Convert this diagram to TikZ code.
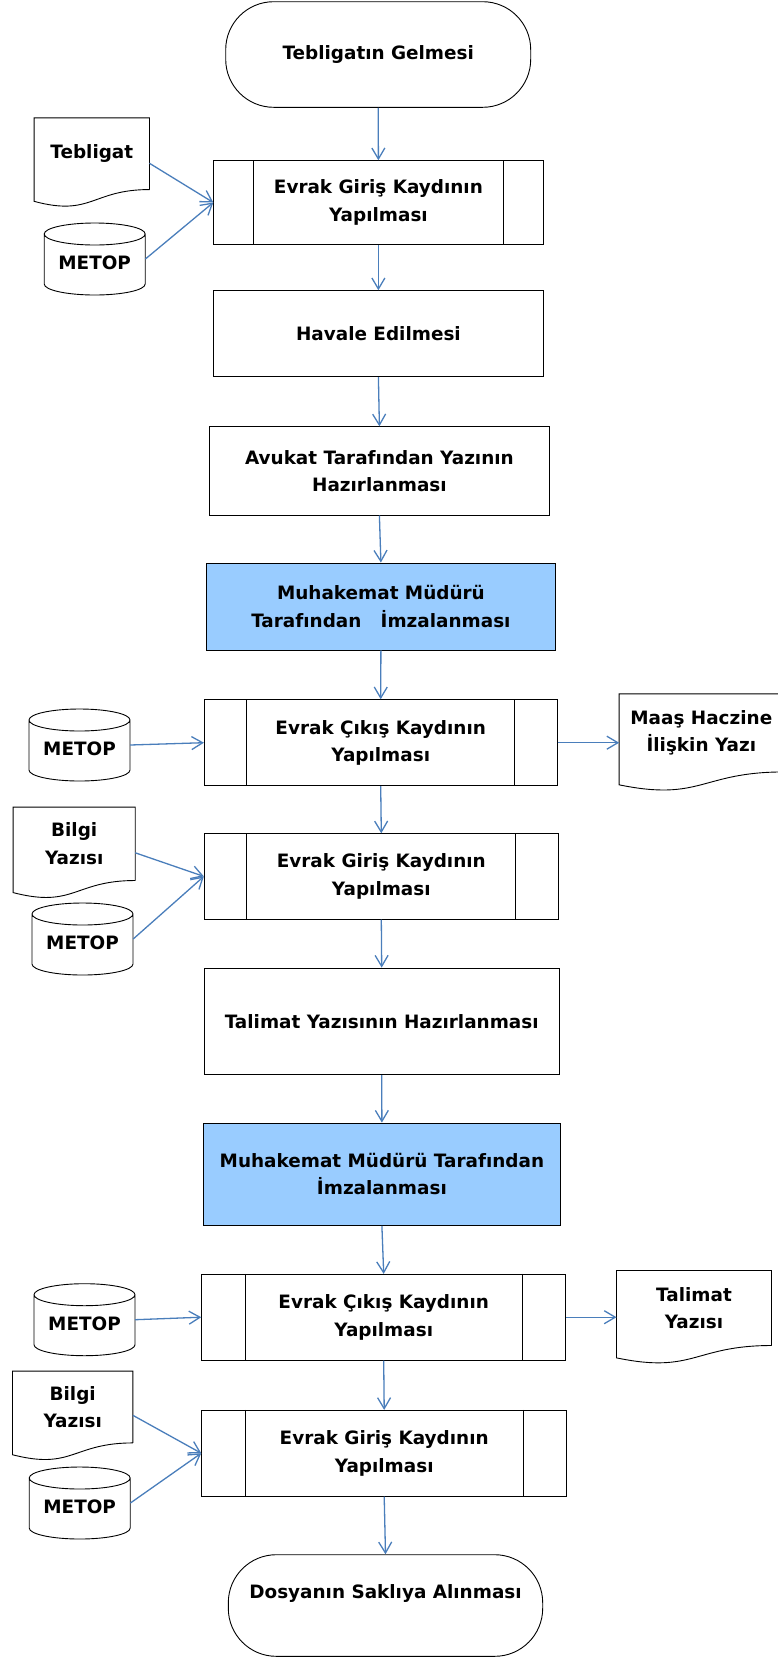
\documentclass[tikz,border=0pt]{standalone}
\usepackage{fontspec}
\setmainfont{DejaVu Sans}
\usetikzlibrary{arrows.meta,calc}

\definecolor{okmavi}{RGB}{74,126,187}
\definecolor{kutumavi}{RGB}{153,204,255}

\tikzset{
  yazi/.style={inner sep=0pt, align=center, font=\bfseries\fontsize{18.4}{27.5}\selectfont},
  islem/.style={yazi, draw=black, line width=0.9pt, rectangle},
  mavi/.style={islem, fill=kutumavi},
  uc/.style={islem, rounded corners=48pt},
  belge/.style={yazi},
  veri/.style={yazi, minimum width=101pt, minimum height=72pt},
  cizgi/.style={draw=black, line width=0.9pt},
  ok/.style={draw=okmavi, line width=1.3pt, -{Straight Barb[length=11pt,width=13pt]}},
}

\begin{document}
\begin{tikzpicture}[x=1pt, y=-1pt]
    \useasboundingbox (0,0) rectangle (778,1657);

    % ana akis
    \node[uc, minimum width=305pt, minimum height=105.6pt] (gelme) at (378.2,54.5) {Tebligatın Gelmesi};
    \node[islem, minimum width=329.3pt, minimum height=83.6pt] (giris1) at (378.4,202.5) {Evrak Giriş Kaydının\\Yapılması};
    \node[islem, minimum width=329.3pt, minimum height=86pt] (havale) at (378.4,333.7) {Havale Edilmesi};
    \node[islem, minimum width=339.3pt, minimum height=88.3pt] (avukat) at (379.4,470.9) {Avukat Tarafından Yazının\\Hazırlanması};
    \node[mavi, minimum width=348.3pt, minimum height=87pt] (imza1) at (380.9,606.5) {Muhakemat Müdürü\\Tarafından\ \ \ İmzalanması};
    \node[islem, minimum width=352.7pt, minimum height=86pt] (cikis1) at (380.7,742.7) {Evrak Çıkış Kaydının\\Yapılması};
    \node[islem, minimum width=354pt, minimum height=85.3pt] (giris2) at (381.3,876.4) {Evrak Giriş Kaydının\\Yapılması};
    \node[islem, minimum width=355.3pt, minimum height=106.7pt] (talimat) at (381.7,1021.4) {Talimat Yazısının Hazırlanması};
    \node[mavi, minimum width=357.7pt, minimum height=102.3pt] (imza2) at (381.9,1174.2) {Muhakemat Müdürü Tarafından\\İmzalanması};
    \node[islem, minimum width=364pt, minimum height=85.7pt] (cikis2) at (383.7,1317.2) {Evrak Çıkış Kaydının\\Yapılması};
    \node[islem, minimum width=365pt, minimum height=85.7pt] (giris3) at (384.2,1453.2) {Evrak Giriş Kaydının\\Yapılması};
    \node[uc, minimum width=314.4pt, minimum height=101.6pt, text depth=28pt] (sakla) at (385.5,1605.5) {Dosyanın Saklıya Alınması};

    % alt surec cizgileri
    \foreach \n/\d in {giris1/40, cikis1/43, giris2/43, cikis2/44, giris3/44} {
      \draw[cizgi] ([xshift=\d pt]\n.north west) -- ([xshift=\d pt]\n.south west);
      \draw[cizgi] ([xshift=-\d pt]\n.north east) -- ([xshift=-\d pt]\n.south east);
    }

    % belgeler
    \node[belge, minimum width=115pt, minimum height=71.3pt] (tebligat) at (91.8,153.7) {Tebligat};
    \node[belge, minimum width=164pt, minimum height=77.7pt] (maas) at (701.3,732.9) {Maaş Haczine\\İlişkin Yazı};
    \node[belge, minimum width=121.7pt, minimum height=73pt] (bilgi1) at (74.2,843.8) {Bilgi\\Yazısı};
    \node[belge, minimum width=154.6pt, minimum height=74.6pt] (talimatYazi) at (694,1308) {Talimat\\Yazısı};
    \node[belge, minimum width=120pt, minimum height=71.4pt] (bilgi2) at (72.7,1407) {Bilgi\\Yazısı};

    \foreach \n in {tebligat, maas, bilgi1, talimatYazi, bilgi2}
      \draw[cizgi] (\n.south east) -- (\n.north east) -- (\n.north west)
        -- ($(\n.north west)!1.1646!(\n.south west)$)
        .. controls ($(\n.north)!1.381!(\n.south)$) and (\n.south) .. (\n.south east);

    % METOP veri tabanlari
    \node[veri] (metop1) at (94.7,263) {METOP};
    \node[veri] (metop2) at (79.5,749) {METOP};
    \node[veri] (metop3) at (82.5,943) {METOP};
    \node[veri] (metop4) at (84.5,1323.7) {METOP};
    \node[veri] (metop5) at (79.7,1507) {METOP};

    \foreach \n in {metop1, metop2, metop3, metop4, metop5}
      \draw[cizgi] ([shift={(-50.5,-29)}]\n.center) -- ([shift={(-50.5,21)}]\n.center)
        arc (180:360:50.5pt and 11pt) -- ([shift={(50.5,-29)}]\n.center)
        arc (0:180:50.5pt and 11pt) arc (180:360:50.5pt and 11pt);

    % oklar
    \draw[ok] (gelme.south) -- (giris1.north);
    \draw[ok] ([yshift=-9.6pt]tebligat.east) -- (giris1.west);
    \draw[ok] ([yshift=4pt]metop1.east) -- (giris1.west);
    \draw[ok] (giris1.south) -- (havale.north);
    \draw[ok] (havale.south) -- (avukat.north);
    \draw[ok] (avukat.south) -- (imza1.north);
    \draw[ok] (imza1.south) -- (cikis1.north);
    \draw[ok] ([yshift=4pt]metop2.east) -- (cikis1.west);
    \draw[ok] (cikis1.east) -- (cikis1.east -| maas.west);
    \draw[ok] (cikis1.south) -- (giris2.north);
    \draw[ok] ([yshift=-9pt]bilgi1.east) -- (giris2.west);
    \draw[ok] ([yshift=4pt]metop3.east) -- (giris2.west);
    \draw[ok] (giris2.south) -- (talimat.north);
    \draw[ok] (talimat.south) -- (imza2.north);
    \draw[ok] (imza2.south) -- (cikis2.north);
    \draw[ok] ([yshift=4pt]metop4.east) -- (cikis2.west);
    \draw[ok] (cikis2.east) -- (cikis2.east -| talimatYazi.west);
    \draw[ok] (cikis2.south) -- (giris3.north);
    \draw[ok] ([yshift=-8.3pt]bilgi2.east) -- (giris3.west);
    \draw[ok] ([yshift=4pt]metop5.east) -- (giris3.west);
    \draw[ok] (giris3.south) -- (sakla.north);
\end{tikzpicture}
\end{document}
